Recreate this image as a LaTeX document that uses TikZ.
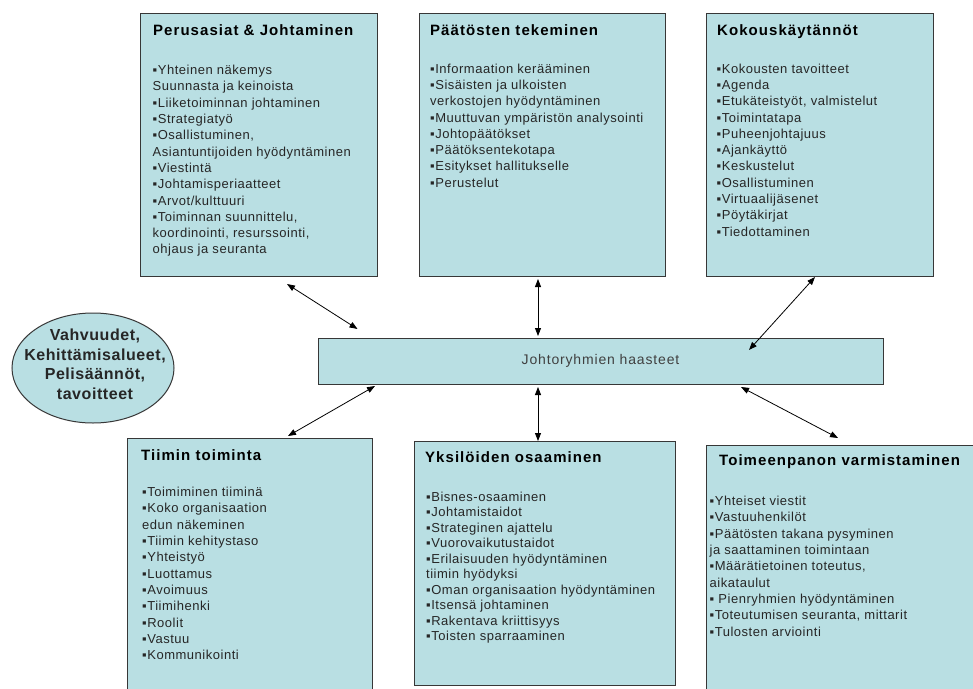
\documentclass[tikz,border=0pt]{standalone}
\usepackage{fontspec}
\setmainfont{Liberation Sans}
\newfontfamily\titlefont[LetterSpace=7]{Liberation Sans}
\newfontfamily\bodyfont[LetterSpace=4]{Liberation Sans}
\newfontfamily\ellfont[LetterSpace=3.5]{Liberation Sans}
\newfontfamily\midfont[LetterSpace=6]{Liberation Sans}
\usetikzlibrary{arrows.meta,shapes.geometric}
\definecolor{boxfill}{RGB}{185,223,227}
\definecolor{boxline}{RGB}{55,55,55}
\begin{document}
\begin{tikzpicture}[x=1pt,y=-1pt,
  box/.style={draw=boxline,fill=boxfill,line width=1pt,inner sep=0,anchor=north west},
  ttl/.style={anchor=base west,inner sep=0,font=\titlefont\bfseries\fontsize{15}{18}\selectfont,text=black},
  body/.style={anchor=north west,inner sep=0,align=left,font=\bodyfont\fontsize{13}{16.3}\selectfont,text=black!85},
  link/.style={draw=black,line width=0.8pt,{Triangle[length=8pt,width=6pt]}-{Triangle[length=8pt,width=6pt]}}]
\useasboundingbox (0,0) rectangle (973,688);
\clip (0,0) rectangle (973,688);
\fill[white] (0,0) rectangle (973,688);

% boxes
\node[box,minimum width=237,minimum height=263] (tl) at (140,13) {};
\node[box,minimum width=246,minimum height=263] (tm) at (419,13) {};
\node[box,minimum width=227,minimum height=263] (tr) at (706,13) {};
\node[box,minimum width=245,minimum height=280] (bl) at (127,438) {};
\node[box,minimum width=261,minimum height=244] (bm) at (414,441) {};
\node[box,minimum width=290,minimum height=280] (br) at (706,445) {};

\node[draw=boxline,fill=boxfill,line width=1pt,minimum width=565,minimum height=46,inner sep=0,
      font=\midfont\fontsize{14}{16}\selectfont,text=black!75] (mid) at (600.5,361) {Johtoryhmien haasteet};

\node[draw=boxline,fill=boxfill,line width=1pt,ellipse,minimum width=162,minimum height=110,inner sep=0] (ell) at (93,368) {};
\node[align=center,inner sep=0,font=\ellfont\bfseries\fontsize{16}{19.5}\selectfont,text=black!85] (elltxt) at (95,364.5) {Vahvuudet,\\Kehittämisalueet,\\Pelisäännöt,\\tavoitteet};

% titles
\node[ttl] (tlt) at (153,35) {Perusasiat \& Johtaminen};
\node[ttl] (tmt) at (430,35) {Päätösten tekeminen};
\node[ttl] (trt) at (717,35) {Kokouskäytännöt};
\node[ttl] (blt) at (141,460.5) {Tiimin toiminta};
\node[ttl] (bmt) at (425,462) {Yksilöiden osaaminen};
\node[ttl] (brt) at (719,465) {Toimeenpanon varmistaminen};

% bodies
\node[body] (tlb) at (152.5,65) {▪Yhteinen näkemys\\Suunnasta ja keinoista\\▪Liiketoiminnan johtaminen\\▪Strategiatyö\\▪Osallistuminen,\\Asiantuntijoiden hyödyntäminen\\▪Viestintä\\▪Johtamisperiaatteet\\▪Arvot/kulttuuri\\▪Toiminnan suunnittelu,\\koordinointi, resurssointi,\\ohjaus ja seuranta};
\node[body] (tmb) at (430,63.5) {▪Informaation kerääminen\\▪Sisäisten ja ulkoisten\\verkostojen hyödyntäminen\\▪Muuttuvan ympäristön analysointi\\▪Johtopäätökset\\▪Päätöksentekotapa\\▪Esitykset hallitukselle\\▪Perustelut};
\node[body] (trb) at (716.5,63.5) {▪Kokousten tavoitteet\\▪Agenda\\▪Etukäteistyöt, valmistelut\\▪Toimintatapa\\▪Puheenjohtajuus\\▪Ajankäyttö\\▪Keskustelut\\▪Osallistuminen\\▪Virtuaalijäsenet\\▪Pöytäkirjat\\▪Tiedottaminen};
\node[body] (blb) at (142,487) {▪Toimiminen tiiminä\\▪Koko organisaation\\edun näkeminen\\▪Tiimin kehitystaso\\▪Yhteistyö\\▪Luottamus\\▪Avoimuus\\▪Tiimihenki\\▪Roolit\\▪Vastuu\\▪Kommunikointi};
\node[body,font=\bodyfont\fontsize{13}{15.5}\selectfont] (bmb) at (426,491.5) {▪Bisnes-osaaminen\\▪Johtamistaidot\\▪Strateginen ajattelu\\▪Vuorovaikutustaidot\\▪Erilaisuuden hyödyntäminen\\tiimin hyödyksi\\▪Oman organisaation hyödyntäminen\\▪Itsensä johtaminen\\▪Rakentava kriittisyys\\▪Toisten sparraaminen};
\node[body] (brb) at (709.5,496) {▪Yhteiset viestit\\▪Vastuuhenkilöt\\▪Päätösten takana pysyminen\\ja saattaminen toimintaan\\▪Määrätietoinen toteutus,\\aikataulut\\▪ Pienryhmien hyödyntäminen\\▪Toteutumisen seuranta, mittarit\\▪Tulosten arviointi};

% connector ends
\coordinate (a1) at (287,284);  \coordinate (b1) at (357.5,329);
\coordinate (a2) at (538,279);  \coordinate (b2) at (538,336);
\coordinate (a3) at (815,277);  \coordinate (b3) at (749,350);
\coordinate (a4) at (375,386);  \coordinate (b4) at (288,436);
\coordinate (a5) at (538,387);  \coordinate (b5) at (538,441);
\coordinate (a6) at (741,387);  \coordinate (b6) at (838,438);

\draw[link] (a1) -- (b1);
\draw[link] (a2) -- (b2);
\draw[link] (a3) -- (b3);
\draw[link] (a4) -- (b4);
\draw[link] (a5) -- (b5);
\draw[link] (a6) -- (b6);
\end{tikzpicture}
\end{document}
